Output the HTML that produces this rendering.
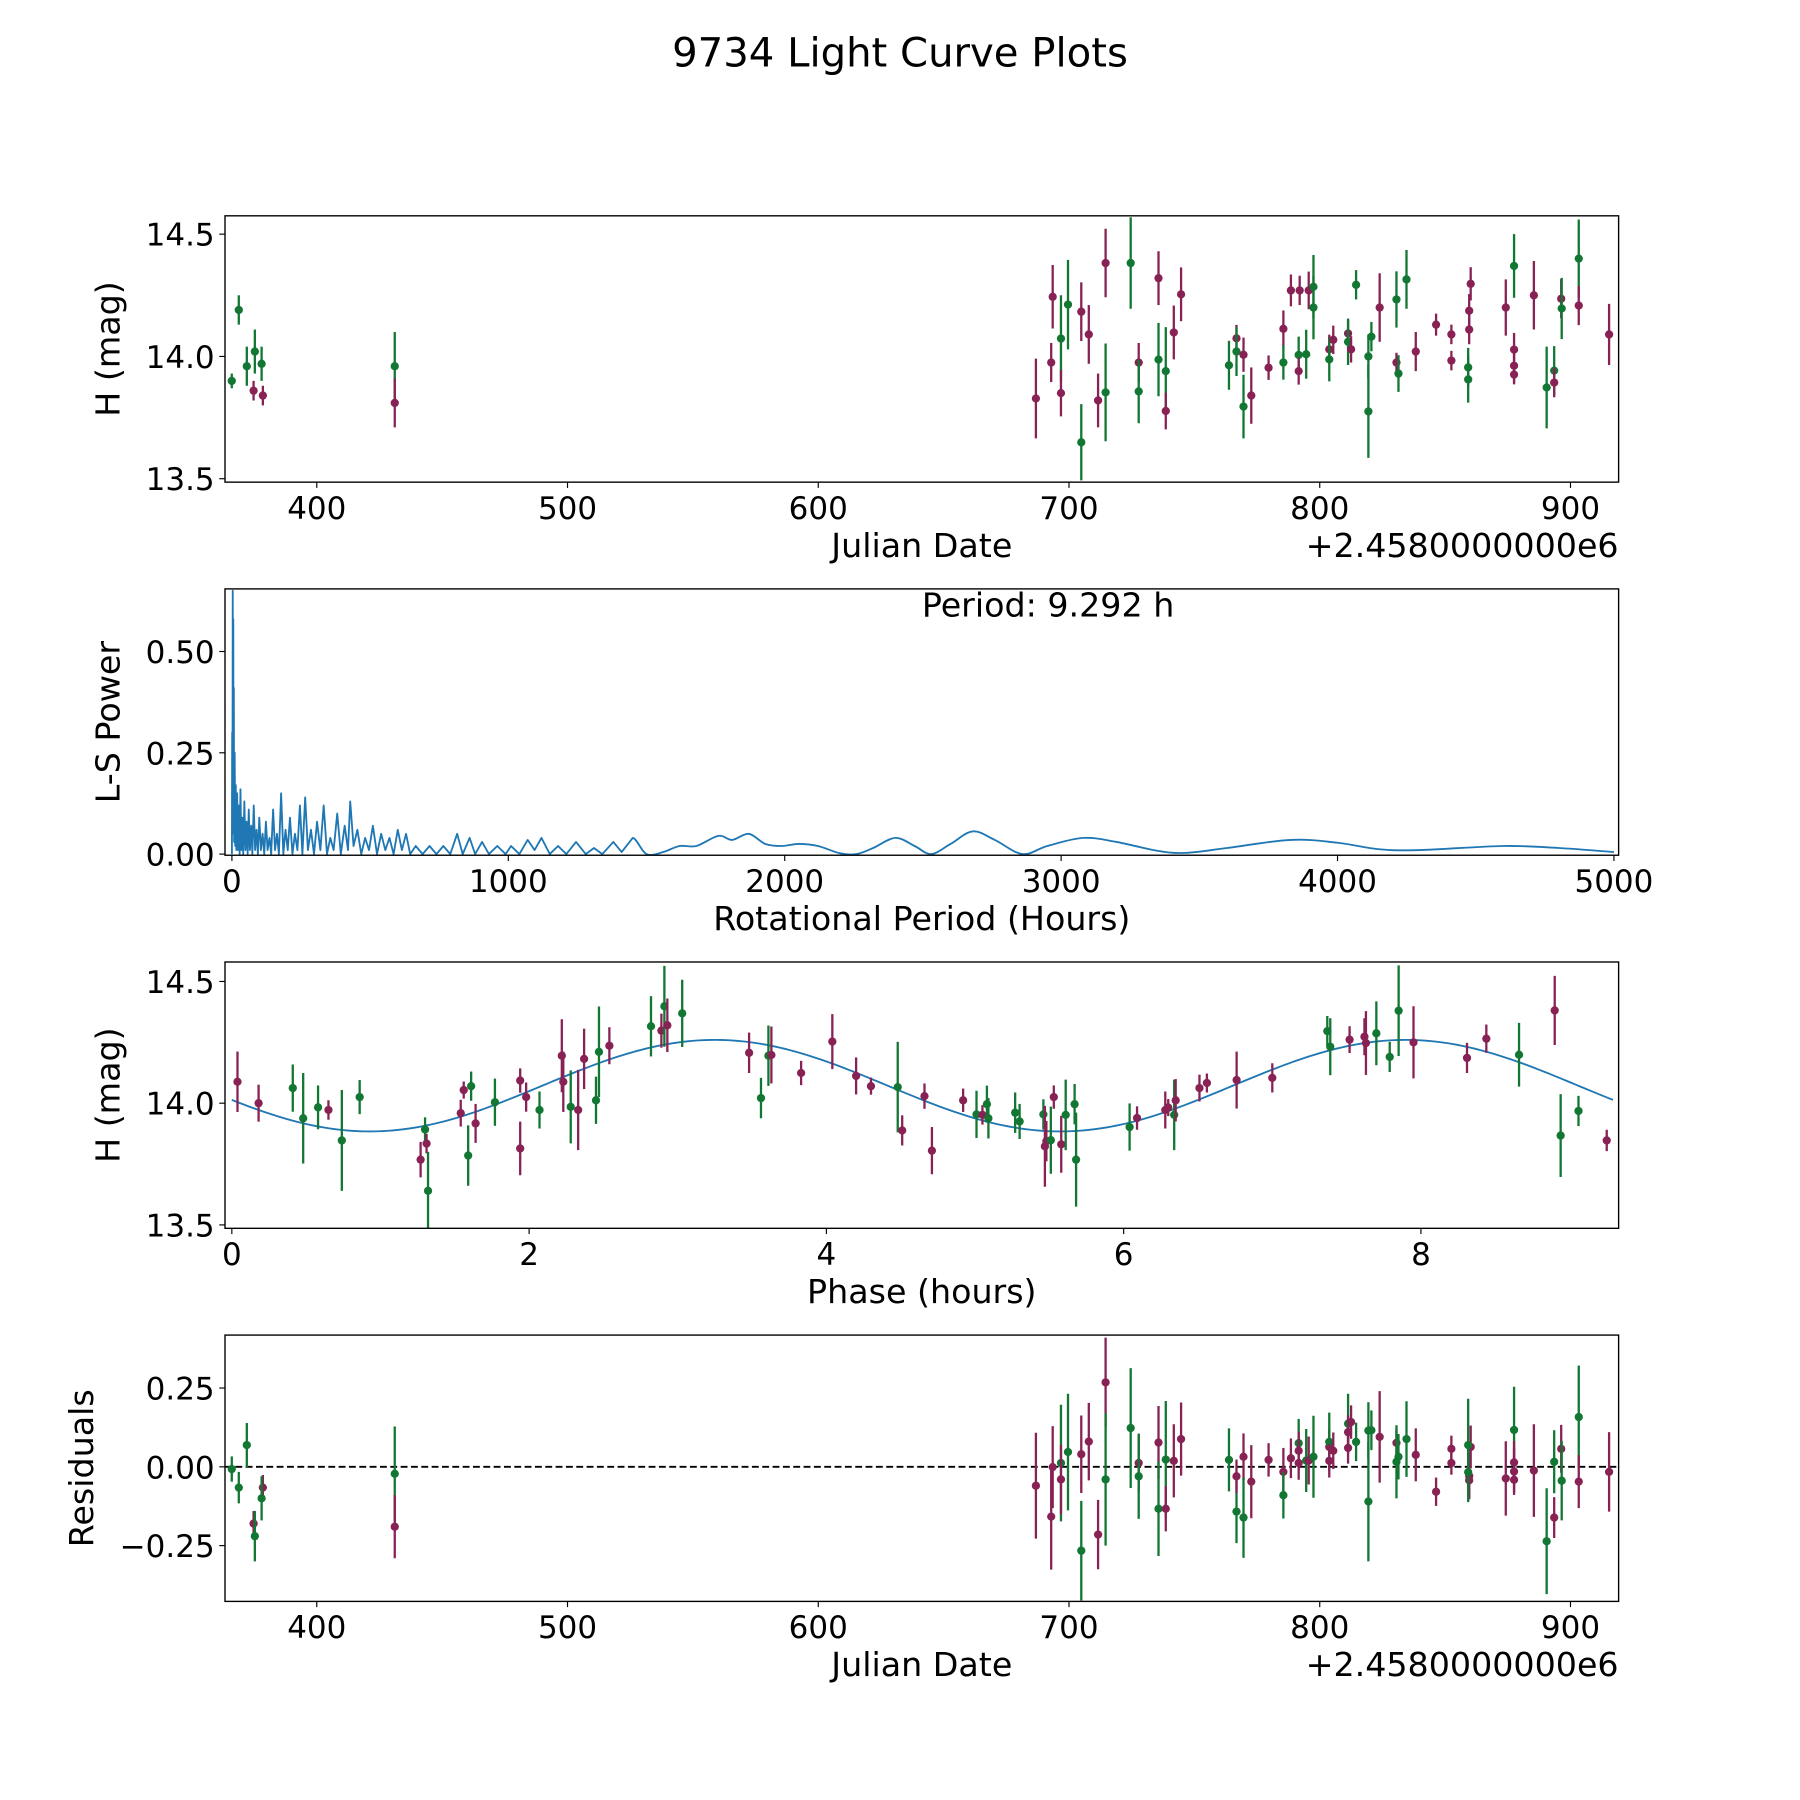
<!DOCTYPE html>
<html><head><meta charset="utf-8"><title>9734 Light Curve Plots</title>
<style>
html,body{margin:0;padding:0;background:#fff;}
svg{display:block;font-family:"DejaVu Sans","Liberation Sans",sans-serif;}
</style></head>
<body>
<svg id="fig" width="1800" height="1800" viewBox="0 0 1568 1568" xmlns="http://www.w3.org/2000/svg">
<rect width="1568" height="1568" fill="#fff"/>
<text x="784" y="58" font-size="35" text-anchor="middle">9734 Light Curve Plots</text>
</svg>
<script>
// ---- Light curve data (panel 1) ----
const lcJD = [366.1,368.9,372.1,375.3,374.8,378.0,378.5,431.1,431.1,
686.8,692.9,693.5,696.8,696.8,699.6,704.9,704.9,707.9,711.6,714.6,714.6,724.6,727.8,727.8,735.7,735.7,738.6,738.6,741.8,744.7,
763.8,766.8,766.8,769.6,769.6,772.7,779.6,785.5,785.5,788.5,792.0,791.6,791.6,794.6,795.6,797.5,797.5,803.8,803.8,805.4,811.3,811.3,812.5,814.5,819.4,819.4,820.6,823.9,830.6,830.6,831.4,834.6,838.3,
846.4,852.5,852.5,860.2,859.6,859.6,859.2,859.2,874.2,877.5,877.5,877.5,877.5,885.4,890.5,893.5,893.5,896.3,896.5,903.3,903.3,915.4];
const lcMag = [13.90,14.19,13.96,14.02,13.86,13.97,13.84,13.96,13.81,
13.828,13.975,14.244,14.073,13.85,14.212,14.183,13.649,14.09,13.82,14.382,13.853,14.382,13.975,13.857,14.32,13.987,13.94,13.777,14.098,14.254,
13.964,14.074,14.02,14.007,13.795,13.84,13.954,14.113,13.975,14.27,14.27,14.006,13.94,14.009,14.27,14.285,14.2,14.029,13.988,14.068,14.094,14.06,14.029,14.293,14.0,13.775,14.081,14.2,14.233,13.975,13.93,14.315,14.02,
14.13,14.09,13.983,14.297,14.187,14.11,13.955,13.906,14.2,14.37,14.028,13.962,13.926,14.25,13.873,13.942,13.893,14.236,14.196,14.4,14.208,14.09];
const lcErr = [0.03,0.06,0.08,0.09,0.04,0.07,0.04,0.14,0.10,
0.163,0.08,0.13,0.177,0.095,0.183,0.12,0.156,0.12,0.11,0.14,0.20,0.187,0.08,0.13,0.11,0.15,0.18,0.075,0.11,0.11,
0.10,0.055,0.10,0.07,0.13,0.115,0.05,0.075,0.07,0.065,0.06,0.075,0.055,0.10,0.077,0.13,0.13,0.06,0.09,0.058,0.055,0.095,0.054,0.06,0.09,0.19,0.06,0.14,0.115,0.04,0.075,0.12,0.08,
0.045,0.04,0.04,0.068,0.068,0.06,0.08,0.095,0.115,0.13,0.068,0.068,0.04,0.14,0.167,0.10,0.06,0.08,0.125,0.16,0.08,0.125];
const lcColor = ['g','g','g','g','p','g','p','g','p',
'p','p','p','g','p','g','p','g','p','p','p','g','g','p','g','p','g','g','p','p','p',
'g','p','g','p','g','p','p','p','g','p','p','g','p','g','p','g','g','p','g','p','p','g','p','g','g','g','g','p','g','p','g','g','p',
'p','p','p','p','p','p','g','g','p','g','p','p','p','p','g','g','p','p','g','g','p','p'];

// ---- Periodogram data (panel 2) ----
const lsPeriod = [0,1,2,3,4,5,6,7,8,10,12,14,16,19,22,25,28,31,34,38,41,45,49,53,57,61,65,70,74,79,84,89,94,99,105,111,117,123,129,136,142,149,156,163,170,178,186,194,202,210,219,228,237,246,255,265,275,286,297,308,320,332,344,356,368,381,394,408,420,428,440,454,468,482,496,510,525,540,555,570,585,600,615,630,645,665,690,715,740,765,790,815,835,860,880,905,930,960,990,1010,1040,1070,1095,1120,1150,1180,1210,1245,1280,1310,1340,1380,1410,1450,1500,1560,1620,1680,1760,1810,1870,1930,1990,2050,2120,2200,2260,2320,2400,2470,2530,2600,2680,2760,2860,2950,3080,3200,3350,3450,3600,3830,4000,4150,4300,4600,4800,5000];
const lsPower = [0,0.30,0.05,0.65,0.10,0.58,0.05,0.41,0.03,0.25,0.02,0.17,0.01,0.15,0.01,0.12,0.0,0.16,0.01,0.09,0.0,0.13,0.01,0.08,0.0,0.11,0.01,0.07,0.0,0.12,0.01,0.06,0.0,0.09,0.01,0.05,0.0,0.08,0.01,0.04,0.0,0.11,0.01,0.05,0.0,0.15,0.0,0.06,0.01,0.09,0.0,0.05,0.01,0.12,0.0,0.14,0.01,0.06,0.0,0.08,0.01,0.12,0.0,0.04,0.01,0.10,0.0,0.07,0.01,0.13,0.02,0.06,0.0,0.04,0.01,0.07,0.0,0.05,0.01,0.04,0.0,0.06,0.01,0.05,0.0,0.02,0.0,0.02,0.0,0.02,0.0,0.05,0.0,0.04,0.0,0.03,0.0,0.02,0.0,0.02,0.0,0.035,0.01,0.04,0.0,0.02,0.0,0.03,0.0,0.015,0.0,0.03,0.005,0.04,0.0,0.005,0.02,0.02,0.045,0.035,0.05,0.025,0.02,0.025,0.02,0.002,0.0,0.015,0.04,0.02,0.0,0.025,0.056,0.035,0.0,0.02,0.04,0.03,0.008,0.003,0.015,0.035,0.028,0.012,0.01,0.02,0.015,0.005];
const ptTicks = [0,1000,2000,3000,4000,5000];
const powTicks = [0,0.25,0.5];

// ---- Phased data (panel 3) ----
const phPhase = [0.038,0.18,0.41,0.48,0.58,0.65,0.74,0.86,1.27,1.30,1.31,1.32,1.54,1.56,1.61,1.59,1.64,1.77,1.94,1.98,1.94,2.07,2.22,2.23,2.28,2.33,2.37,2.45,2.47,2.54,2.82,2.89,2.91,2.93,3.03,3.48,3.56,3.61,3.63,3.83,4.04,4.20,4.30,4.48,4.51,4.66,4.71,4.92,5.01,5.05,5.08,5.09,5.27,
5.30,5.46,5.47,5.48,5.51,5.53,5.58,5.61,5.67,5.68,6.04,6.09,6.28,6.30,6.34,6.35,6.51,6.56,6.76,7.00,7.37,7.39,7.52,7.63,7.62,7.70,7.79,7.85,7.95,8.31,8.44,8.66,8.90,8.94,9.06,9.25];
const phMag = [14.088,14.0,14.062,13.938,13.983,13.972,13.847,14.025,13.768,13.892,13.834,13.64,13.959,14.054,14.07,13.785,13.917,14.004,14.093,14.025,13.814,13.972,14.195,14.088,13.985,13.972,14.182,14.012,14.211,14.236,14.316,14.298,14.398,14.32,14.369,14.207,14.021,14.195,14.198,14.124,14.253,14.112,14.07,14.066,13.888,14.029,13.805,14.012,13.954,13.952,13.996,13.938,13.961,
13.925,13.954,13.823,13.844,13.848,14.025,13.831,13.952,13.996,13.768,13.902,13.939,13.972,13.982,13.952,14.012,14.062,14.083,14.095,14.104,14.296,14.232,14.261,14.247,14.273,14.287,14.19,14.38,14.25,14.186,14.265,14.199,14.381,13.867,13.968,13.847];
const phErr = [0.124,0.076,0.097,0.186,0.09,0.04,0.207,0.07,0.073,0.05,0.04,0.16,0.055,0.035,0.06,0.124,0.08,0.097,0.05,0.06,0.11,0.076,0.15,0.124,0.15,0.165,0.124,0.097,0.186,0.076,0.124,0.07,0.166,0.11,0.138,0.083,0.083,0.124,0.117,0.05,0.113,0.076,0.035,0.186,0.062,0.052,0.097,0.048,0.097,0.04,0.076,0.083,0.083,
0.072,0.062,0.166,0.083,0.138,0.048,0.117,0.145,0.083,0.193,0.097,0.048,0.076,0.035,0.145,0.087,0.055,0.039,0.117,0.06,0.062,0.117,0.055,0.131,0.076,0.131,0.062,0.186,0.148,0.062,0.058,0.131,0.142,0.17,0.062,0.044];
const phColor = ['p','p','g','g','g','p','g','g','p','g','p','g','p','p','g','g','p','g','p','p','p','g','p','p','g','p','p','g','g','p','g','p','g','p','g','p','g','g','p','p','p','p','p','g','p','p','p','p','g','p','g','g','g',
'g','g','p','p','g','p','p','g','g','g','g','p','p','p','g','p','p','p','p','p','g','g','p','p','p','g','g','g','p','p','p','g','p','g','g','p'];
const modelMean = 14.072, modelAmp = 0.188, modelPhase0 = 2.089, rotPeriod = 9.292;

// ---- Residuals (panel 4) ----
const resJD = [366.1,368.9,372.1,374.8,375.3,378.5,378.0,431.1,431.1,
686.8,692.9,693.5,696.8,696.8,699.6,704.9,704.9,707.9,711.6,714.6,714.6,724.6,727.8,727.8,735.7,735.7,738.6,738.6,741.8,744.7,
763.8,766.8,766.8,769.6,769.6,772.7,779.6,785.5,785.5,788.5,791.6,791.6,791.6,794.6,795.6,797.5,803.8,803.8,803.8,805.4,811.3,811.3,811.3,812.5,814.5,819.4,819.4,820.6,823.9,830.6,830.6,831.4,834.6,838.3,
846.4,852.5,852.5,860.2,859.6,859.6,859.2,859.2,874.2,877.5,877.5,877.5,877.5,885.4,890.5,893.5,893.5,896.3,896.5,903.3,903.3,915.4];
const resVal = [-0.007,-0.066,0.069,-0.18,-0.22,-0.066,-0.10,-0.022,-0.19,
-0.060,-0.158,-0.001,0.012,-0.04,0.047,0.04,-0.266,0.08,-0.215,0.268,-0.04,0.123,0.012,-0.03,0.077,-0.133,0.023,-0.133,0.019,0.088,
0.022,-0.142,-0.03,0.032,-0.161,-0.047,0.022,-0.016,-0.09,0.027,0.075,0.051,0.012,0.02,0.02,0.032,0.063,0.079,0.019,0.051,0.137,0.11,0.06,0.142,0.079,0.115,-0.11,0.116,0.095,0.076,0.016,0.032,0.088,0.038,
-0.079,0.057,0.012,0.063,-0.029,-0.043,0.069,-0.017,-0.037,0.117,0.014,-0.015,-0.041,-0.012,-0.236,0.016,-0.161,0.057,-0.044,0.158,-0.047,-0.016];
const resErr = [0.04,0.05,0.07,0.04,0.08,0.04,0.07,0.15,0.10,
0.168,0.168,0.13,0.185,0.11,0.185,0.123,0.158,0.123,0.11,0.142,0.21,0.19,0.093,0.135,0.116,0.15,0.186,0.072,0.116,0.116,
0.10,0.10,0.053,0.074,0.128,0.116,0.053,0.076,0.074,0.063,0.077,0.061,0.053,0.10,0.076,0.13,0.058,0.093,0.053,0.058,0.095,0.053,0.05,0.053,0.061,0.09,0.19,0.063,0.145,0.042,0.116,0.072,0.12,0.084,
0.045,0.042,0.037,0.068,0.074,0.058,0.147,0.095,0.118,0.137,0.068,0.074,0.04,0.147,0.168,0.10,0.065,0.076,0.126,0.163,0.084,0.126];
const resColor = ['g','g','g','p','g','p','g','g','p',
'p','p','p','g','p','g','p','g','p','p','p','g','g','p','g','p','g','g','p','p','p',
'g','g','p','p','g','p','p','p','g','p','g','p','p','g','p','g','p','g','p','p','g','p','p','p','g','g','g','g','p','p','g','g','g','p',
'p','p','p','p','p','p','g','g','p','g','p','p','p','p','g','g','p','p','g','g','p','p'];

const jdTicks = [400,500,600,700,800,900];
const magTicks = [13.5,14.0,14.5];
const phTicks = [0,2,4,6,8];
const resTicks = [-0.25,0,0.25];

const NS = 'http://www.w3.org/2000/svg';
const svg = document.getElementById('fig');
const COL = {g:'#117733', p:'#882255'};
const TICK_FS = 27, LABEL_FS = 29;
function mk(tag, attrs, parent){
  const e = document.createElementNS(NS, tag);
  for (const k in attrs) e.setAttribute(k, attrs[k]);
  (parent||svg).appendChild(e);
  return e;
}
function linScale(d0,d1,r0,r1){ return v => r0 + (v-d0)/(d1-d0)*(r1-r0); }

function panel(name, L, T, R, B, xd, yd, xt, xfmt, yt, yfmt, xlabel, ylabel, ylabX, offsetText){
  const g = mk('g', {});
  
  
  const sx = linScale(xd[0], xd[1], L, R), sy = linScale(yd[0], yd[1], B, T);
  const clipId = name + '-clip';
  const cp = mk('clipPath', {id: clipId}, g);
  mk('rect', {x:L, y:T, width:R-L, height:B-T}, cp);
  const plot = mk('g', {'clip-path': 'url(#' + clipId + ')'}, g);
  
  
  xt.forEach(v => {
    const x = sx(v);
    const t = mk('line', {x1:x, x2:x, y1:B, y2:B+5, stroke:'#000', 'stroke-width':1}, g);
    
    
    const lb = mk('text', {x:x, y:B+32, 'font-size':TICK_FS, 'text-anchor':'middle'}, g);
    
    
    lb.textContent = xfmt(v);
  });
  yt.forEach(v => {
    const y = sy(v);
    const t = mk('line', {x1:L-5, x2:L, y1:y, y2:y, stroke:'#000', 'stroke-width':1}, g);
    
    
    const lb = mk('text', {x:L-9, y:y+10, 'font-size':TICK_FS, 'text-anchor':'end'}, g);
    
    
    lb.textContent = yfmt(v);
  });
  const xl = mk('text', {x:(L+R)/2, y:B+65, 'font-size':LABEL_FS, 'text-anchor':'middle'}, g);
  
  
  xl.textContent = xlabel;
  const yl = mk('text', {x:ylabX, y:(T+B)/2, 'font-size':LABEL_FS, 'text-anchor':'middle', transform:'rotate(-90 '+ylabX+' '+((T+B)/2)+')'}, g);
  
  
  yl.textContent = ylabel;
  if (offsetText){
    const o = mk('text', {x:R, y:B+65, 'font-size':LABEL_FS, 'text-anchor':'end'}, g);
    
    
    o.textContent = offsetText;
  }
  return {g, plot, sx, sy, frame: () => {
    const f = mk('rect', {x:L, y:T, width:R-L, height:B-T, fill:'none', stroke:'#000', 'stroke-width':1.2}, g);
    
    
  }};
}

function errPoints(p, xs, ys, es, cs, label){
  for (let i = 0; i < xs.length; i++){
    const x = p.sx(xs[i]), y = p.sy(ys[i]);
    const c = COL[cs[i]];
    const ln = mk('line', {x1:x, x2:x, y1:p.sy(ys[i]-es[i]), y2:p.sy(ys[i]+es[i]), stroke:c, 'stroke-width':2}, p.plot);
    
    
    const dot = mk('circle', {cx:x, cy:y, r:3.6, fill:c}, p.plot);
    
    
  }
}

const f2 = v => v.toFixed(2).replace('-', '\u2212');
const f1 = v => v.toFixed(1);
const fi = v => String(v);

// Panel 1
const p1 = panel('light-curve-panel', 196, 188, 1410, 420, [363.4, 919.2], [13.486, 14.575], jdTicks, fi, magTicks, f1, 'Julian Date', 'H (mag)', 104, '+2.4580000000e6');
errPoints(p1, lcJD, lcMag, lcErr, lcColor, 'light-curve');
p1.frame();

// Panel 2
const p2 = panel('periodogram-panel', 196, 513, 1410, 745, [-25, 5017], [-0.0028, 0.6545], ptTicks, fi, powTicks, f2, 'Rotational Period (Hours)', 'L-S Power', 104, null);
{
  let d = '';
  const px = lsPeriod.map(p2.sx), py = lsPower.map(p2.sy);
  for (let i = 0; i < px.length; i++){
    if (i === 0) { d += 'M' + px[0].toFixed(2) + ' ' + py[0].toFixed(2); continue; }
    if (lsPeriod[i] < 1500) { d += ' L' + px[i].toFixed(2) + ' ' + py[i].toFixed(2); continue; }
    const i0 = Math.max(0, i-2), i1 = i-1, i3 = Math.min(px.length-1, i+1);
    const c1x = px[i1] + (px[i]-px[i0])/6, c1y = py[i1] + (py[i]-py[i0])/6;
    const c2x = px[i] - (px[i3]-px[i1])/6, c2y = py[i] - (py[i3]-py[i1])/6;
    d += ' C' + c1x.toFixed(2)+' '+c1y.toFixed(2)+' '+c2x.toFixed(2)+' '+c2y.toFixed(2)+' '+px[i].toFixed(2)+' '+py[i].toFixed(2);
  }
  const path = mk('path', {d, fill:'none', stroke:'#1f77b4', 'stroke-width':1.6, 'stroke-linejoin':'round'}, p2.plot);
  
  
  const pt = mk('text', {x:913, y:537, 'font-size':LABEL_FS, 'text-anchor':'middle'}, p2.g);
  
  
  pt.textContent = 'Period: ' + rotPeriod.toFixed(3) + ' h';
}
p2.frame();

// Panel 3
const p3 = panel('phase-panel', 196, 838, 1410, 1070, [-0.046, 9.33], [13.486, 14.58], phTicks, fi, magTicks, f1, 'Phase (hours)', 'H (mag)', 104, null);
{
  const pts = [];
  for (let k = 0; k <= 300; k++){
    const ph = rotPeriod * k / 300;
    const m = modelMean + modelAmp * Math.sin(4*Math.PI*(ph - modelPhase0)/rotPeriod);
    pts.push(p3.sx(ph).toFixed(2) + ',' + p3.sy(m).toFixed(2));
  }
  const ml = mk('polyline', {points: pts.join(' '), fill:'none', stroke:'#1f77b4', 'stroke-width':1.6}, p3.plot);
  
  
}
errPoints(p3, phPhase, phMag, phErr, phColor, 'phased');
p3.frame();

// Panel 4
const p4 = panel('residuals-panel', 196, 1163, 1410, 1395, [363.4, 919.2], [-0.427, 0.418], jdTicks, fi, resTicks, f2, 'Julian Date', 'Residuals', 81, '+2.4580000000e6');
{
  const zl = mk('line', {x1:196, x2:1410, y1:p4.sy(0), y2:p4.sy(0), stroke:'#000', 'stroke-width':1.6, 'stroke-dasharray':'6,3'}, p4.plot);
  
  
}
errPoints(p4, resJD, resVal, resErr, resColor, 'residual');
p4.frame();
</script>
</body></html>
